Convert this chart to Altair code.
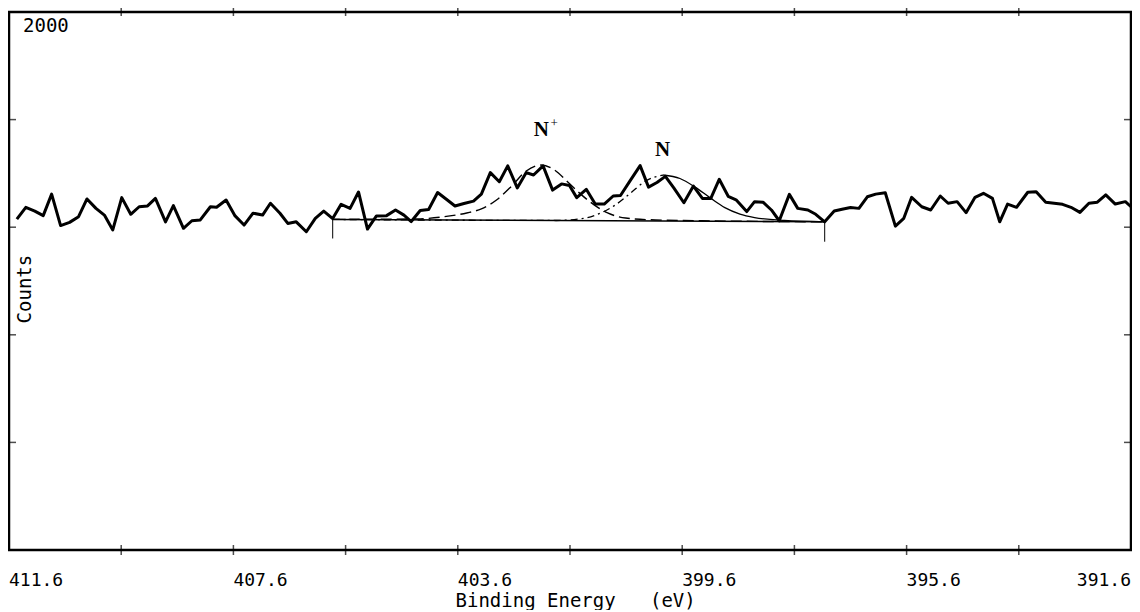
import altair as alt
import pandas as pd

# ---- spectrum (binding energy in eV, counts) ----
energy = [411.46, 411.30, 411.14, 410.99, 410.84, 410.68, 410.52, 410.36, 410.21, 410.05,
          409.90, 409.75, 409.59, 409.43, 409.28, 409.13, 408.99, 408.81, 408.67, 408.49,
          408.34, 408.19, 408.01, 407.90, 407.73, 407.57, 407.41, 407.25, 407.08, 406.94,
          406.77, 406.63, 406.48, 406.30, 406.14, 405.99, 405.83, 405.68, 405.52, 405.37,
          405.21, 405.05, 404.87, 404.71, 404.56, 404.43, 404.27, 404.12, 403.96, 403.81,
          403.65, 403.49, 403.32, 403.18, 403.02, 402.86, 402.71, 402.54, 402.38, 402.25,
          402.08, 401.91, 401.75, 401.61, 401.48, 401.31, 401.15, 400.99, 400.83, 400.70,
          400.53, 400.35, 400.20, 400.05, 399.90, 399.75, 399.57, 399.40, 399.24, 399.09,
          398.94, 398.78, 398.64, 398.45, 398.31, 398.16, 398.01, 397.87, 397.69, 397.54,
          397.36, 397.22, 397.06, 396.89, 396.75, 396.60, 396.45, 396.30, 396.15, 395.98,
          395.80, 395.65, 395.51, 395.33, 395.17, 395.00, 394.86, 394.70, 394.54, 394.38,
          394.23, 394.07, 393.94, 393.80, 393.64, 393.44, 393.29, 393.12, 392.97, 392.82,
          392.67, 392.51, 392.35, 392.20, 392.05, 391.88, 391.70, 391.60]
counts = [1230, 1274, 1260, 1243, 1323, 1206, 1218, 1239, 1305, 1270,
          1245, 1190, 1310, 1248, 1276, 1279, 1307, 1220, 1280, 1196,
          1224, 1227, 1276, 1274, 1301, 1242, 1208, 1252, 1245, 1289,
          1252, 1214, 1220, 1183, 1233, 1260, 1232, 1285, 1270, 1331,
          1193, 1242, 1243, 1264, 1245, 1221, 1262, 1266, 1329, 1305,
          1279, 1288, 1297, 1323, 1403, 1369, 1428, 1346, 1403, 1394,
          1428, 1338, 1361, 1355, 1310, 1341, 1286, 1286, 1316, 1318,
          1372, 1429, 1349, 1366, 1389, 1346, 1291, 1353, 1307, 1307,
          1378, 1315, 1302, 1258, 1295, 1293, 1264, 1224, 1322, 1270,
          1264, 1248, 1220, 1260, 1267, 1273, 1270, 1313, 1323, 1328,
          1204, 1233, 1311, 1276, 1264, 1316, 1289, 1295, 1254, 1311,
          1326, 1307, 1220, 1286, 1274, 1330, 1332, 1293, 1289, 1285,
          1274, 1255, 1289, 1293, 1320, 1286, 1295, 1276]

# ---- fitted component N+ ----
np_energy = [405.83, 404.33, 403.74, 403.44, 403.18, 402.91, 402.64, 402.38, 402.11,
             401.88, 401.64, 401.41, 401.17, 400.93, 400.61, 400.08, 397.06]
np_counts = [1229, 1231, 1242, 1253, 1268, 1301, 1353, 1409, 1431,
             1413, 1368, 1323, 1283, 1253, 1234, 1227, 1220]

# ---- fitted component N ----
n_energy = [405.83, 401.85, 401.32, 401.05, 400.79, 400.52, 400.25, 399.94, 399.64,
            399.37, 399.10, 398.84, 398.57, 398.31, 397.78, 397.06]
n_counts = [1229, 1225, 1234, 1253, 1283, 1327, 1372, 1394, 1381,
            1349, 1309, 1273, 1249, 1236, 1225, 1220]
n_peak_energy = 399.94

# ---- background line and its end markers ----
base_energy = [405.83, 397.06]
base_counts = [1229, 1220]
base_tick_low = [1158, 1146]

# ---- axis ticks / labels ----
x_tick_values = [409.6, 407.6, 405.6, 403.6, 401.6, 399.6, 397.6, 395.6, 393.6]
x_label_left = [411.6, 407.6, 403.6, 399.6, 395.6]
x_label_right = [391.6]
y_tick_values = [400, 800, 1200, 1600]
x_title = "Binding Energy\u00a0\u00a0\u00a0(eV)"
y_title = "Counts"
y_top_label = "2000"

W, H = 1122, 538
MONO = "DejaVu Sans Mono"
SERIF = "Liberation Serif"

xs = alt.Scale(domain=[411.6, 391.6], nice=False, zero=False)
ys = alt.Scale(domain=[0, 2000], nice=False, zero=False)

spec_df = pd.DataFrame({"e": energy, "c": counts})
np_df = pd.DataFrame({"e": np_energy, "c": np_counts})
n_df = pd.DataFrame({"e": n_energy, "c": n_counts})
base_df = pd.DataFrame({"e": base_energy, "c": base_counts, "c2": base_tick_low})
xt_df = pd.DataFrame({"e": x_tick_values})
yt_df = pd.DataFrame({"c": y_tick_values})


def X(field="e"):
    return alt.X(f"{field}:Q", scale=xs, axis=None)


def Y(field="c"):
    return alt.Y(f"{field}:Q", scale=ys, axis=None)


spectrum = alt.Chart(spec_df).mark_line(color="black", strokeWidth=3,
                                        strokeJoin="round").encode(x=X(), y=Y())

comp_np = alt.Chart(np_df).mark_line(color="black", strokeWidth=1.4,
                                     strokeDash=[11, 5], interpolate="monotone").encode(
    x=X(), y=Y())

comp_n_left = alt.Chart(n_df).transform_filter(
    f"datum.e >= {n_peak_energy}").mark_line(
    color="black", strokeWidth=1.3, strokeDash=[7, 4, 2, 4],
    interpolate="monotone").encode(x=X(), y=Y())
comp_n_right = alt.Chart(n_df).transform_filter(
    f"datum.e <= {n_peak_energy}").mark_line(
    color="black", strokeWidth=1.3, interpolate="monotone").encode(x=X(), y=Y())

base_line = alt.Chart(base_df).mark_line(color="black", strokeWidth=1.5).encode(
    x=X(), y=Y())
base_ticks = alt.Chart(base_df).mark_rule(color="black", strokeWidth=1).encode(
    x=X(), y=Y(), y2="c2:Q")

tick_bottom = alt.Chart(xt_df).mark_tick(color="black", thickness=1.5, size=10,
                                         orient="vertical").encode(
    x=X(), y=alt.value(H))
tick_top = alt.Chart(xt_df).mark_tick(color="black", thickness=1.5, size=8,
                                      orient="vertical").encode(
    x=X(), y=alt.value(0))
tick_left = alt.Chart(yt_df).mark_tick(color="black", thickness=1.5, size=14,
                                       orient="horizontal").encode(
    y=Y(), x=alt.value(0))
tick_right = alt.Chart(yt_df).mark_tick(color="black", thickness=1.5, size=14,
                                        orient="horizontal").encode(
    y=Y(), x=alt.value(W))

# x tick labels (below the frame) and the x title
xl_df = pd.DataFrame({"e": x_label_left})
xr_df = pd.DataFrame({"e": x_label_right})
lab_x_left = alt.Chart(xl_df).mark_text(font=MONO, fontSize=18, align="left",
                                        baseline="top", color="black").encode(
    x=X(), y=alt.value(H + 22), text=alt.Text("e:Q", format=".1f"))
lab_x_right = alt.Chart(xr_df).mark_text(font=MONO, fontSize=18, align="right",
                                         baseline="top", color="black").encode(
    x=X(), y=alt.value(H + 22), text=alt.Text("e:Q", format=".1f"))
xt_title_df = pd.DataFrame({"e": [401.5], "t": [x_title]})
lab_x_title = alt.Chart(xt_title_df).mark_text(font=MONO, fontSize=19, align="center",
                                               baseline="middle", color="black").encode(
    x=X(), y=alt.value(H + 51), text="t:N")

lab_df = pd.DataFrame({"e": [411.6], "c": [2000], "t": [y_top_label]})
lab_2000 = alt.Chart(lab_df).mark_text(font=MONO, fontSize=19, align="left",
                                       baseline="top", dx=14, dy=5,
                                       color="black").encode(
    x=X(), y=Y(), text="t:N")

cnt_df = pd.DataFrame({"e": [411.6], "c": [970], "t": [y_title]})
lab_counts = alt.Chart(cnt_df).mark_text(font=MONO, fontSize=19, angle=270,
                                         align="center", baseline="middle",
                                         dy=16, color="black").encode(
    x=X(), y=Y(), text="t:N")

peak_df = pd.DataFrame({"e": [402.11, 399.95], "c": [1561, 1487], "t": ["N", "N"]})
lab_peaks = alt.Chart(peak_df).mark_text(font=SERIF, fontSize=21, fontWeight="bold",
                                         align="center", baseline="middle",
                                         color="black").encode(
    x=X(), y=Y(), text="t:N")
plus_df = pd.DataFrame({"e": [402.11], "c": [1561], "t": ["+"]})
lab_plus = alt.Chart(plus_df).mark_text(font=SERIF, fontSize=13, align="left",
                                        baseline="middle", dx=9, dy=-7,
                                        color="black").encode(
    x=X(), y=Y(), text="t:N")

chart = alt.layer(
    spectrum, base_line, base_ticks, comp_np, comp_n_left, comp_n_right,
    tick_bottom, tick_top, tick_left, tick_right,
    lab_x_left, lab_x_right, lab_x_title,
    lab_2000, lab_counts, lab_peaks, lab_plus,
).properties(
    width=W, height=H,
    autosize=alt.AutoSizeParams(type="none"),
    padding={"left": 1, "top": 4, "right": 1, "bottom": 60},
    background="white",
).configure_view(stroke="black", strokeWidth=2.5)

chart.save("out.html", embed_options={"renderer": "svg", "actions": False})
